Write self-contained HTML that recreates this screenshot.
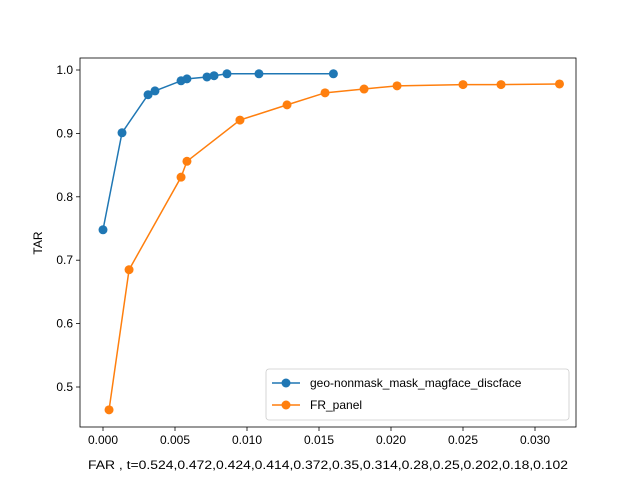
<!DOCTYPE html>
<html><head><meta charset="utf-8"><style>
html,body{margin:0;padding:0;background:#fff;}
svg text{font-family:"Liberation Sans","Noto Sans CJK SC",sans-serif;font-size:12px;fill:#000;}
</style></head><body>
<svg id="chart" width="640" height="480" xmlns="http://www.w3.org/2000/svg"></svg>
<script>
const blueX=[0,0.00132,0.00313,0.00361,0.00542,0.00583,0.00722,0.00771,0.00861,0.01083,0.0160];
const blueY=[0.748,0.901,0.961,0.967,0.983,0.986,0.989,0.991,0.994,0.994,0.994];
const orangeX=[0.00042,0.00181,0.00542,0.00583,0.00951,0.01278,0.01542,0.01813,0.02042,0.025,0.02764,0.0317];
const orangeY=[0.464,0.685,0.831,0.856,0.921,0.945,0.964,0.970,0.975,0.977,0.977,0.978];
const xTicks=[0,0.005,0.010,0.015,0.020,0.025,0.030];
const xTickLabels=["0.000","0.005","0.010","0.015","0.020","0.025","0.030"];
const yTicks=[0.5,0.6,0.7,0.8,0.9,1.0];
const yTickLabels=["0.5","0.6","0.7","0.8","0.9","1.0"];
const seriesNames=["geo-nonmask_mask_magface_discface","FR_panel"];

const NS="http://www.w3.org/2000/svg";
const svg=document.getElementById('chart');
const L=80,R=576,T=58,B=427;
function sx(v){return 103+v*14400;}
function sy(v){return 70+(1-v)*634;}
function el(tag,attrs,parent){const e=document.createElementNS(NS,tag);for(const k in attrs)e.setAttribute(k,attrs[k]);(parent||svg).appendChild(e);return e;}

const frame=el('rect',{x:L,y:T,width:R-L,height:B-T,fill:'none',stroke:'#000','stroke-width':0.8});



xTicks.forEach((t,i)=>{
  const x=sx(t);
  const tk=el('line',{x1:x,x2:x,y1:B,y2:B+4,stroke:'#000','stroke-width':0.8});
  
  
  const tx=el('text',{x:x,y:B+17,'text-anchor':'middle'});tx.textContent=xTickLabels[i];
  
  
});
yTicks.forEach((t,i)=>{
  const y=sy(t);
  const tk=el('line',{x1:L-4,x2:L,y1:y,y2:y,stroke:'#000','stroke-width':0.8});
  
  
  const tx=el('text',{x:L-7,y:y+4,'text-anchor':'end'});tx.textContent=yTickLabels[i];
  
  
});
const xt=el('text',{x:88,y:469,textLength:480,lengthAdjust:'spacingAndGlyphs'});xt.textContent="FAR , t=0.524,0.472,0.424,0.414,0.372,0.35,0.314,0.28,0.25,0.202,0.18,0.102";


const yt=el('text',{x:42,y:243,'text-anchor':'middle',transform:'rotate(-90 42 243)'});yt.textContent="TAR";



function series(xs,ys,color,name){
  const g=el('g',{});
  
  
  const pts=xs.map((x,i)=>sx(x)+','+sy(ys[i])).join(' ');
  const pl=el('polyline',{points:pts,fill:'none',stroke:color,'stroke-width':1.5},g);
  
  
  xs.forEach((x,i)=>{
    const c=el('circle',{cx:sx(x),cy:sy(ys[i]),r:4.5,fill:color},g);
    
    
  });
}
series(blueX,blueY,'#1f77b4','series-geo');
series(orangeX,orangeY,'#ff7f0e','series-fr-panel');

const lg=el('g',{});


el('rect',{x:266,y:369,width:303,height:51,rx:3,fill:'#fff',stroke:'#ccc','stroke-width':0.8},lg);
[['#1f77b4',383],['#ff7f0e',405]].forEach((c,i)=>{
  const e=el('g',{},lg);
  
  
  el('line',{x1:272,x2:300,y1:c[1],y2:c[1],stroke:c[0],'stroke-width':1.5},e);
  el('circle',{cx:286,cy:c[1],r:4.5,fill:c[0]},e);
  const t=el('text',{x:310,y:c[1]+4},e);t.textContent=seriesNames[i];
});
</script>
</body></html>
